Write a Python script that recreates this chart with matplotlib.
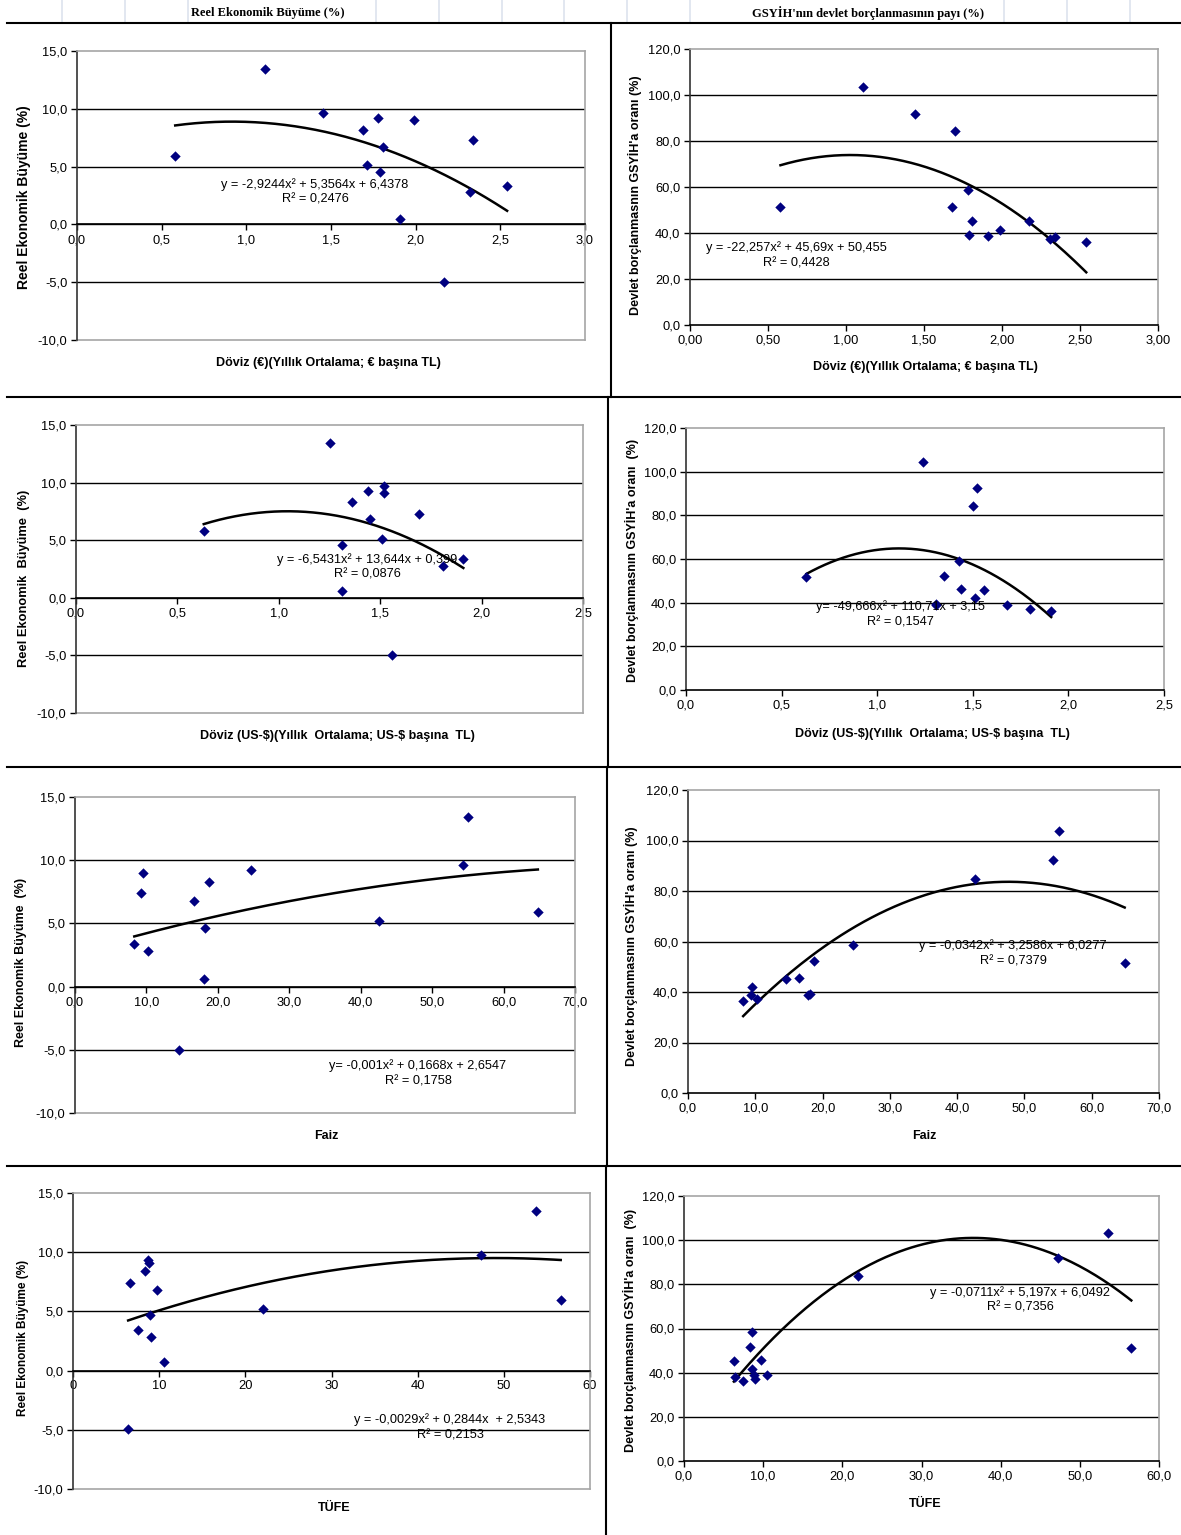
import numpy as np
import matplotlib
matplotlib.use("Agg")
import matplotlib.pyplot as plt
from matplotlib.lines import Line2D
from matplotlib.ticker import FuncFormatter, MultipleLocator

W, H = 1181, 1535
SANS = "Liberation Sans"

# ---- data ----
# growth vs euro rate
eur_x_g = [0.58, 1.11, 1.45, 1.69, 1.71, 1.78, 1.79, 1.81, 1.91, 1.99, 2.17, 2.32, 2.34, 2.54]
growth_eur = [5.9, 13.4, 9.6, 8.2, 5.1, 9.2, 4.5, 6.7, 0.5, 9.0, -5.0, 2.8, 7.3, 3.3]
# debt vs euro rate
eur_x_d = [0.58, 1.11, 1.44, 1.70, 1.78, 1.68, 1.81, 1.79, 1.91, 1.99, 2.17, 2.31, 2.34, 2.54]
debt_eur = [51.1, 103.5, 91.9, 84.2, 58.8, 51.5, 45.4, 39.2, 38.7, 41.5, 45.4, 37.4, 38.1, 36.3]
# growth vs dollar rate
usd_x_g = [0.63, 1.25, 1.31, 1.31, 1.36, 1.44, 1.45, 1.52, 1.51, 1.52, 1.56, 1.69, 1.81, 1.91]
growth_usd = [5.8, 13.4, 4.6, 0.6, 8.3, 9.3, 6.8, 9.1, 5.1, 9.7, -5.0, 7.3, 2.8, 3.4]
# debt vs dollar rate
usd_x_d = [0.63, 1.24, 1.52, 1.50, 1.43, 1.35, 1.31, 1.31, 1.44, 1.51, 1.56, 1.68, 1.80, 1.91]
debt_usd = [51.6, 104.2, 92.6, 84.5, 59.1, 52.2, 39.5, 38.9, 46.1, 42.1, 45.6, 39.0, 37.3, 36.4]
# growth vs interest
faiz_x_g = [8.3, 9.3, 9.5, 10.2, 14.5, 16.7, 18.0, 18.2, 18.7, 24.6, 42.6, 54.3, 55.0, 64.8]
growth_faiz = [3.4, 7.4, 9.0, 2.8, -5.0, 6.8, 0.6, 4.6, 8.3, 9.2, 5.2, 9.6, 13.4, 5.9]
# debt vs interest
faiz_x_d = [8.2, 9.3, 9.5, 10.3, 14.6, 16.5, 17.9, 18.1, 18.7, 24.5, 42.6, 54.3, 55.2, 64.9]
debt_faiz = [36.5, 38.7, 41.8, 37.4, 45.2, 45.7, 38.9, 39.1, 52.2, 58.8, 84.6, 92.4, 103.7, 51.4]
# growth vs CPI
tufe_x_g = [6.4, 6.6, 7.6, 8.3, 8.7, 8.8, 8.9, 9.1, 9.8, 10.6, 22.1, 47.4, 53.7, 56.6]
growth_tufe = [-4.9, 7.4, 3.4, 8.4, 9.3, 9.1, 4.7, 2.8, 6.8, 0.7, 5.2, 9.8, 13.5, 6.0]
# debt vs CPI
tufe_x_d = [6.3, 6.5, 7.5, 8.3, 8.6, 8.6, 8.9, 9.0, 9.7, 10.5, 22.0, 47.2, 53.6, 56.5]
debt_tufe = [45.3, 38.2, 36.2, 51.6, 58.6, 41.8, 38.8, 37.3, 45.9, 38.8, 83.9, 91.9, 103.3, 51.1]

# trendline coefficients as printed on the chart
coef_growth_eur = [-2.9244, 5.3564, 6.4378]
coef_debt_eur = [-22.257, 45.69, 50.455]
coef_growth_usd = [-6.5431, 13.644, 0.399]
coef_debt_usd = [-49.666, 110.71, 3.15]
coef_growth_faiz = [-0.001, 0.1668, 2.6547]
coef_debt_faiz = [-0.0342, 3.2586, 6.0277]
coef_growth_tufe = [-0.0029, 0.2844, 2.5343]
coef_debt_tufe = [-0.0711, 5.197, 6.0492]

eq_labels = [
    ("y = -2,9244x\u00b2 + 5,3564x + 6,4378", "R\u00b2 = 0,2476"),
    ("y = -22,257x\u00b2 + 45,69x + 50,455", "R\u00b2 = 0,4428"),
    ("y = -6,5431x\u00b2 + 13,644x + 0,399", "R\u00b2 = 0,0876"),
    ("y= -49,666x\u00b2 + 110,71x + 3,15", "R\u00b2 = 0,1547"),
    ("y= -0,001x\u00b2 + 0,1668x + 2,6547", "R\u00b2 = 0,1758"),
    ("y = -0,0342x\u00b2 + 3,2586x + 6,0277", "R\u00b2 = 0,7379"),
    ("y = -0,0029x\u00b2 + 0,2844x  + 2,5343", "R\u00b2 = 0,2153"),
    ("y = -0,0711x\u00b2 + 5,197x + 6,0492", "R\u00b2 = 0,7356"),
]

xlab_eur = "Döviz (€)(Yıllık Ortalama; € başına TL)"
xlab_usd = "Döviz (US-\\$)(Yıllık  Ortalama; US-\\$ başına  TL)"
ylab_g = "Reel Ekonomik Büyüme (%)"
ylab_d = "Devlet borçlanmasnın GSYİH'a oranı (%)"


def fx(x):
    return x / W


def fy(y):
    return 1 - y / H


def comma_fmt(dec):
    return FuncFormatter(lambda v, p: f"{v:.{dec}f}".replace(".", ","))


def draw_panel(fig, box, x, y, coef, xlim, xstep, xdec, ylim, ystep,
               xlabel, xlab_pos, ylabel, ylab_pos, ylab_size, eq, eq_pos):
    l, t, r, b = box
    ax = fig.add_axes([fx(l), fy(b), fx(r - l), (b - t) / H])
    ax.set_xlim(*xlim)
    ax.set_ylim(*ylim)
    ax.xaxis.set_major_locator(MultipleLocator(xstep))
    ax.yaxis.set_major_locator(MultipleLocator(ystep))
    ax.xaxis.set_major_formatter(comma_fmt(xdec))
    ax.yaxis.set_major_formatter(comma_fmt(1))

    # gridlines at inner ticks
    for v in np.arange(ylim[0] + ystep, ylim[1], ystep):
        ax.axhline(v, color="black", lw=1.0, zorder=1)

    for s in ["top", "right"]:
        ax.spines[s].set_color("#a6a6a6")
        ax.spines[s].set_linewidth(1.2)
    ax.spines["left"].set_color("#333333")
    ax.spines["left"].set_linewidth(1.2)
    ax.spines["bottom"].set_color("black")
    ax.spines["bottom"].set_linewidth(1.2)
    if ylim[0] < 0:
        ax.spines["bottom"].set_position(("data", 0))
        ax.plot([0, 1], [0, 0], transform=ax.transAxes, color="#a6a6a6",
                lw=1.2, clip_on=False)

    ax.tick_params(direction="out", length=4, width=1, pad=3, labelsize=9.3)
    for lab in ax.get_xticklabels() + ax.get_yticklabels():
        lab.set_fontfamily(SANS)

    xs = np.linspace(min(x), max(x), 200)
    ax.plot(xs, np.polyval(coef, xs), color="black", lw=1.8, zorder=2)
    ax.scatter(x, y, marker="D", s=28, color="#000080", zorder=3, linewidths=0)

    fig.text(fx(xlab_pos[0]), fy(xlab_pos[1]), xlabel, ha="center", va="center",
             fontsize=9, fontweight="bold", family=SANS)
    fig.text(fx(ylab_pos[0]), fy(ylab_pos[1]), ylabel, ha="center", va="center",
             rotation=90, fontsize=ylab_size, fontweight="bold", family=SANS)
    fig.text(fx(eq_pos[0]), fy(eq_pos[1]), eq[0], ha="center", va="center",
             fontsize=9.2, family=SANS)
    fig.text(fx(eq_pos[0]), fy(eq_pos[1] + 15), eq[1], ha="center", va="center",
             fontsize=9.2, family=SANS)
    return ax


fig = plt.figure(figsize=(W / 100, H / 100), dpi=100)

panels = [
    dict(box=(77, 51, 585, 340), x=eur_x_g, y=growth_eur, coef=coef_growth_eur,
         xlim=(0, 3), xstep=0.5, xdec=1, ylim=(-10, 15), ystep=5,
         xlabel=xlab_eur, xlab_pos=(328, 363), ylabel=ylab_g, ylab_pos=(24, 197),
         ylab_size=10, eq=eq_labels[0], eq_pos=(315, 185)),
    dict(box=(690, 49, 1158, 325), x=eur_x_d, y=debt_eur, coef=coef_debt_eur,
         xlim=(0, 3), xstep=0.5, xdec=2, ylim=(0, 120), ystep=20,
         xlabel=xlab_eur, xlab_pos=(925, 367), ylabel=ylab_d, ylab_pos=(635, 195),
         ylab_size=9, eq=eq_labels[1], eq_pos=(796, 248)),
    dict(box=(76, 425, 583, 713), x=usd_x_g, y=growth_usd, coef=coef_growth_usd,
         xlim=(0, 2.5), xstep=0.5, xdec=1, ylim=(-10, 15), ystep=5,
         xlabel=xlab_usd, xlab_pos=(337, 736), ylabel="Reel Ekonomik  Büyüme  (%)",
         ylab_pos=(24, 578), ylab_size=9.3, eq=eq_labels[2], eq_pos=(367, 560)),
    dict(box=(686, 428, 1164, 690), x=usd_x_d, y=debt_usd, coef=coef_debt_usd,
         xlim=(0, 2.5), xstep=0.5, xdec=1, ylim=(0, 120), ystep=20,
         xlabel=xlab_usd, xlab_pos=(932, 734), ylabel="Devlet borçlanmasnın GSYİH'a oranı  (%)",
         ylab_pos=(632, 560), ylab_size=9, eq=eq_labels[3], eq_pos=(900, 607)),
    dict(box=(75, 797, 575, 1113), x=faiz_x_g, y=growth_faiz, coef=coef_growth_faiz,
         xlim=(0, 70), xstep=10, xdec=1, ylim=(-10, 15), ystep=5,
         xlabel="Faiz", xlab_pos=(326, 1136), ylabel="Reel Ekonomik Büyüme  (%)",
         ylab_pos=(21, 962), ylab_size=9, eq=eq_labels[4], eq_pos=(418, 1066)),
    dict(box=(688, 790, 1159, 1093), x=faiz_x_d, y=debt_faiz, coef=coef_debt_faiz,
         xlim=(0, 70), xstep=10, xdec=1, ylim=(0, 120), ystep=20,
         xlabel="Faiz", xlab_pos=(924, 1136), ylabel=ylab_d,
         ylab_pos=(631, 946), ylab_size=9, eq=eq_labels[5], eq_pos=(1013, 946)),
    dict(box=(73, 1193, 590, 1489), x=tufe_x_g, y=growth_tufe, coef=coef_growth_tufe,
         xlim=(0, 60), xstep=10, xdec=0, ylim=(-10, 15), ystep=5,
         xlabel="TÜFE", xlab_pos=(334, 1508), ylabel=ylab_g,
         ylab_pos=(23, 1338), ylab_size=8.5, eq=eq_labels[6], eq_pos=(450, 1420)),
    dict(box=(684, 1196, 1159, 1461), x=tufe_x_d, y=debt_tufe, coef=coef_debt_tufe,
         xlim=(0, 60), xstep=10, xdec=1, ylim=(0, 120), ystep=20,
         xlabel="TÜFE", xlab_pos=(925, 1504), ylabel="Devlet borçlanmasnın GSYİH'a oranı  (%)",
         ylab_pos=(630, 1330), ylab_size=9, eq=eq_labels[7], eq_pos=(1020, 1293)),
]

for p in panels:
    draw_panel(fig, **p)

# spreadsheet header row
for k in range(18):
    gx = 62 + 62.8 * k
    if 190 < gx < 375 or 692 < gx < 1002:
        continue
    fig.add_artist(Line2D([fx(gx), fx(gx)], [fy(0), fy(22)], color="#dde3ee", lw=1.2))
fig.text(fx(268), fy(13), "Reel Ekonomik Büyüme (%)", ha="center", va="center",
         fontsize=9, fontweight="bold", family="Liberation Serif")
fig.text(fx(868), fy(13), "GSYİH'nın devlet borçlanmasının payı (%)", ha="center",
         va="center", fontsize=9, fontweight="bold", family="Liberation Serif")


# chart object borders
def hline(y, x0=7, x1=W):
    fig.add_artist(Line2D([fx(x0), fx(x1)], [fy(y), fy(y)], color="black", lw=1.5))


def vline(x, y0, y1):
    fig.add_artist(Line2D([fx(x), fx(x)], [fy(y0), fy(y1)], color="black", lw=1.5))


hline(23)
hline(397)
hline(767)
hline(1166)
vline(611, 23, 397)
vline(608, 397, 767)
vline(607, 767, 1166)
vline(606, 1166, H)

fig.savefig("out.png", dpi=100)
